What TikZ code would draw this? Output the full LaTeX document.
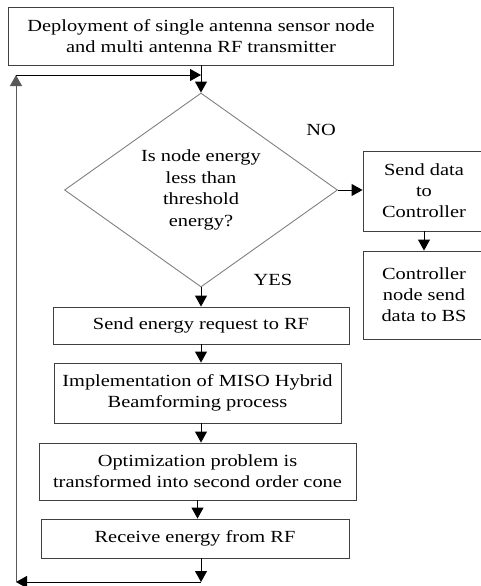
\documentclass[tikz,border=0pt]{standalone}
\usepackage{fontspec}
\setmainfont{Liberation Serif}[FakeStretch=1.2]
\usepackage{tikz}
\usetikzlibrary{shapes.geometric,arrows.meta,positioning}

\tikzset{
  proc/.style={draw=black!75,line width=0.9pt,align=center,inner sep=0pt,
    font=\fontsize{17}{21}\selectfont},
  decision/.style={diamond,draw=black!50,line width=0.9pt,align=center,
    inner sep=0pt,aspect=1.41,minimum width=273pt,minimum height=194pt,
    font=\fontsize{17}{21.5}\selectfont},
  flow/.style={line width=0.9pt,-{Triangle[width=12pt,length=11pt]}},
  back/.style={draw=black!65,line width=0.9pt},
  lbl/.style={font=\fontsize{17}{20}\selectfont}
}

\begin{document}
\begin{tikzpicture}[x=1pt,y=-1pt]
   \useasboundingbox (0,0) rectangle (480,586);

   % main column
   \node[proc,minimum width=385pt,minimum height=58pt] (deploy) at (201,36)
     {Deployment of single antenna sensor node\\and multi antenna RF transmitter};
   \node[decision] (check) at (201,190)
     {Is node energy\\less than\\threshold\\energy?};
   \node[proc,minimum width=296pt,minimum height=37pt] (request) at (201,325.5)
     {Send energy request to RF};
   \node[proc,minimum width=287pt,minimum height=60pt] (miso) at (197.5,393)
     {Implementation of MISO Hybrid\\Beamforming process};
   \node[proc,minimum width=317pt,minimum height=57pt] (socp) at (197.5,471.5)
     {Optimization problem is\\transformed into second order cone};
   \node[proc,minimum width=308pt,minimum height=39pt] (receive) at (195,538.5)
     {Receive energy from RF};

   % NO branch
   \node[proc,minimum width=122pt,minimum height=80pt] (senddata) at (424,191)
     {Send data\\to\\Controller};
   \node[proc,minimum width=122pt,minimum height=88pt] (ctrl) [below=104pt of senddata.center,anchor=center]
     {Controller\\node send\\data to BS};

   \node[lbl] (no) at (321,130) {NO};
   \node[lbl] (yes) at (273,280) {YES};

   % loop back to the check
   \coordinate (b1) at (201,582);
   \coordinate (b2) at (16,582);
   \coordinate (b3) at (16,75);
   \coordinate (b4) at (201,75);

   \draw[flow] (deploy.south) -- (check.north);
   \draw[flow] (check.east) -- (check.east -| senddata.west);
   \draw[flow] (senddata.south) -- (ctrl.north);
   \draw[flow] (check.south) -- (check.south |- request.north);
   \draw[flow] (request.south) -- (request.south |- miso.north);
   \draw[flow] (check.south |- miso.south) -- (check.south |- socp.north);
   \draw[flow] (socp.south) -- (socp.south |- receive.north);
   \draw[flow] (check.south |- receive.south) -- (b1);
   \draw[flow] (b1) -- (b2);
   \draw[back,-{Triangle[width=12pt,length=11pt]}] (b2) -- (b3);
   \draw[flow] (b3) -- (b4);
\end{tikzpicture}
\end{document}
